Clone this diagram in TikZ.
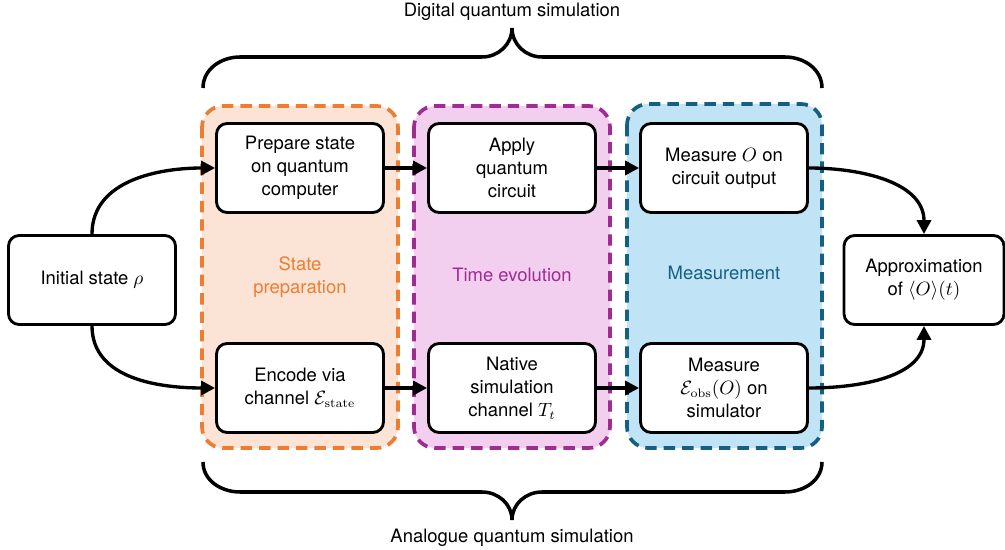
\documentclass[tikz,border=0pt]{standalone}
\usepackage[no-math]{fontspec}
\setmainfont{TeX Gyre Heros}
\usetikzlibrary{arrows.meta}
\definecolor{prepline}{RGB}{237,125,49}
\definecolor{prepfill}{RGB}{251,227,214}
\definecolor{evoline}{RGB}{160,43,147}
\definecolor{evofill}{RGB}{242,207,238}
\definecolor{measline}{RGB}{21,96,130}
\definecolor{measfill}{RGB}{192,228,245}
\begin{document}
\begin{tikzpicture}[x=0.02cm,y=0.02cm,
 font=\fontsize{10.5}{13}\selectfont,
 box/.style={draw,line width=1.6pt,rounded corners=6pt,fill=white,minimum width=3.34cm,minimum height=1.78cm,align=center,inner sep=1pt},
 stage/.style={line width=2.1pt,dash pattern=on 6.5pt off 4pt,rounded corners=12pt},
 flow/.style={line width=1.9pt,-{Triangle[length=8pt,width=8pt]}},
 bracestroke/.style={line width=2pt}]
 \useasboundingbox (0,0) rectangle (1005,-550);
 \draw[stage,draw=prepline,fill=prepfill](202,-106) rectangle (398,-448);
 \draw[stage,draw=evoline,fill=evofill](414,-106) rectangle (610,-448);
 \draw[stage,draw=measline,fill=measfill](627,-104) rectangle (822,-448);
 \node[text=prepline,align=center] (preplabel) at (300,-277) {State\\preparation};
 \node[text=evoline] (evolabel) at (512,-275) {Time evolution};
 \node[text=measline] (measlabel) at (724,-273) {Measurement};
 \node[box] (init) at (92,-280) {Initial state $\rho$};
 \node[box] (prep) at (300,-168) {Prepare state\\on quantum\\computer};
 \node[box] (enc) at (300,-388) {Encode via\\channel $\mathcal{E}_{\mathrm{state}}$};
 \node[box] (circ) at (512,-168) {Apply\\quantum\\circuit};
 \node[box] (nat) at (512,-388) {Native\\simulation\\channel $T_t$};
 \node[box] (meas) at (724,-168) {Measure $O$ on\\circuit output};
 \node[box] (msim) at (724,-388) {Measure\\$\mathcal{E}_{\mathrm{obs}}(O)$ on\\simulator};
 \node[box,minimum width=3.2cm] (approx) at (924,-280) {Approximation\\of $\langle O\rangle(t)$};
 \draw[flow](init.north) to[out=90,in=180] (prep.west);
 \draw[flow](init.south) to[out=-90,in=180] (enc.west);
 \draw[flow](prep) -- (circ);
 \draw[flow](circ) -- (meas);
 \draw[flow](enc) -- (nat);
 \draw[flow](nat) -- (msim);
 \draw[flow](meas.east) to[out=0,in=90] (approx.north);
 \draw[flow](msim.east) to[out=0,in=-90] (approx.south);
 \draw[bracestroke](203,-88) to[out=90,in=180] (240,-57) -- (482,-57) to[out=0,in=-90] (512,-28) to[out=-90,in=180] (542,-57) -- (785,-57) to[out=0,in=90] (822,-88);
 \draw[bracestroke](203,-462) to[out=-90,in=180] (240,-492) -- (482,-492) to[out=0,in=90] (512,-520) to[out=90,in=180] (542,-492) -- (785,-492) to[out=0,in=-90] (822,-462);
 \node (digital) at (512,-12) {Digital quantum simulation};
 \node (analogue) at (512,-538) {Analogue quantum simulation};
\end{tikzpicture}
\end{document}
